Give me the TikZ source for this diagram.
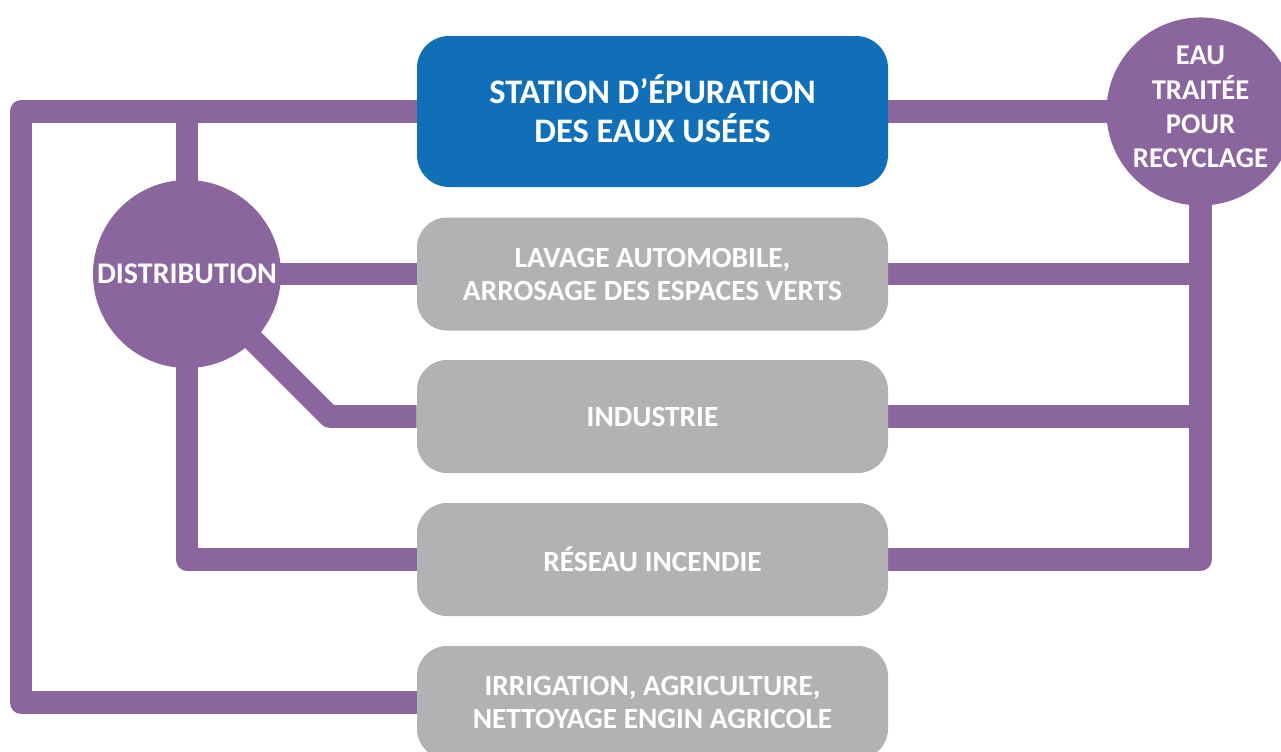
\documentclass[tikz,border=0pt]{standalone}
\usepackage{fontspec}
\setmainfont{Carlito}
\usetikzlibrary{backgrounds}
\definecolor{pipe}{RGB}{138,101,158}
\definecolor{stblue}{RGB}{17,111,184}
\definecolor{boxgray}{RGB}{178,178,178}
\tikzset{
  usebox/.style={fill=boxgray, rounded corners=22.5pt, minimum width=353.25pt, minimum height=84.75pt,
    text=white, font=\bfseries\fontsize{22}{24.75}\selectfont, align=center, inner sep=0pt},
  mainbox/.style={fill=stblue, rounded corners=24pt, minimum width=353.25pt, minimum height=113.25pt,
    text=white, font=\bfseries\fontsize{25.8}{29.25}\selectfont, align=center, inner sep=0pt},
  hub/.style={circle, fill=pipe, minimum size=141pt, inner sep=0pt, text=white, align=center},
  pipeline/.style={draw=pipe, line width=16.9pt, line join=round}
}
\begin{document}
\begin{tikzpicture}[x=0.75pt,y=-0.75pt]
\useasboundingbox (0,0) rectangle (1281,751);
\clip (0,0) rectangle (1281,751);
\node[mainbox, text depth=4pt] (stat) at (652.5,111.5) {STATION D’ÉPURATION\\DES EAUX USÉES};
\node[usebox] (lav) at (652.5,274) {LAVAGE AUTOMOBILE,\\ARROSAGE DES ESPACES VERTS};
\node[usebox] (ind) at (652.5,416.5) {INDUSTRIE};
\node[usebox] (res) at (652.5,559.5) {RÉSEAU INCENDIE};
\node[usebox] (irr) at (652.5,702.5) {IRRIGATION, AGRICULTURE,\\NETTOYAGE ENGIN AGRICOLE};
\node[hub, font=\bfseries\fontsize{22.5}{24.75}\selectfont] (dist) at (187,274) {DISTRIBUTION};
\node[hub, font=\bfseries\fontsize{21.5}{25.7}\selectfont, text depth=7pt] (eau) at (1200.5,111.5) {EAU\\TRAITÉE\\POUR\\RECYCLAGE};
\coordinate (tl) at (21,111.5);
\coordinate (bl) at (21,702.5);
\coordinate (dk) at (329.5,416.5);
\begin{pgfonlayer}{background}
\draw[pipeline] (stat.west) -- (tl) -- (bl) -- (irr.west);
\draw[pipeline] (dist.center) -- (dist.center |- tl);
\draw[pipeline] (dist.center) -- (lav.west);
\draw[pipeline] (dist.center) -- (dk) -- (ind.west);
\draw[pipeline] (dist.center) -- (dist.center |- res.west) -- (res.west);
\draw[pipeline] (stat.east) -- (eau.center);
\draw[pipeline] (eau.center) -- (eau.center |- res.east) -- (res.east);
\draw[pipeline] (lav.east) -- (lav.east -| eau.center);
\draw[pipeline] (ind.east) -- (ind.east -| eau.center);
\end{pgfonlayer}
\end{tikzpicture}
\end{document}
